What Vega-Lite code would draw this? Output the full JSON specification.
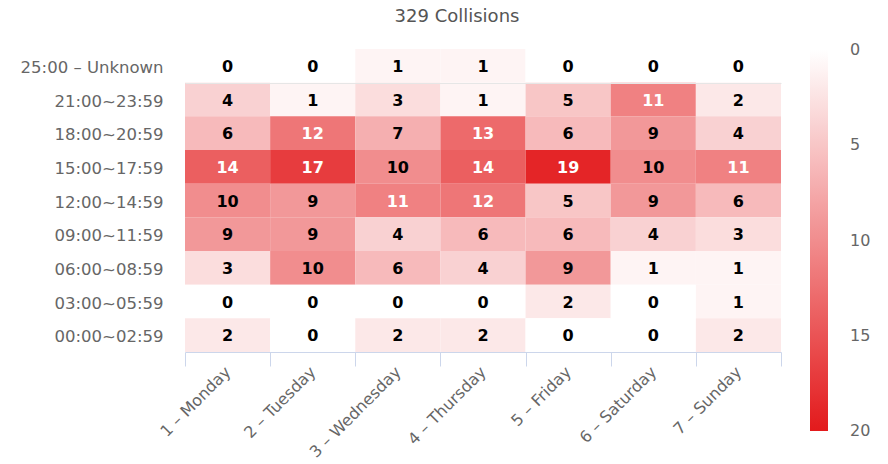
{
  "$schema": "https://vega.github.io/schema/vega-lite/v6.json",
  "width": 596,
  "height": 303,
  "autosize": {"type": "none"},
  "padding": {"left": 185, "top": 49, "right": 107, "bottom": 112},
  "background": "white",
  "title": {
    "text": "329 Collisions",
    "anchor": "middle",
    "frame": "group",
    "dx": -26,
    "offset": 15,
    "font": "DejaVu Sans",
    "fontSize": 18,
    "fontWeight": "normal",
    "color": "#555555"
  },
  "data": {
    "values": [
      {"day": "1 – Monday", "time": "25:00 – Unknown", "n": 0},
      {"day": "2 – Tuesday", "time": "25:00 – Unknown", "n": 0},
      {"day": "3 – Wednesday", "time": "25:00 – Unknown", "n": 1},
      {"day": "4 – Thursday", "time": "25:00 – Unknown", "n": 1},
      {"day": "5 – Friday", "time": "25:00 – Unknown", "n": 0},
      {"day": "6 – Saturday", "time": "25:00 – Unknown", "n": 0},
      {"day": "7 – Sunday", "time": "25:00 – Unknown", "n": 0},
      {"day": "1 – Monday", "time": "21:00~23:59", "n": 4},
      {"day": "2 – Tuesday", "time": "21:00~23:59", "n": 1},
      {"day": "3 – Wednesday", "time": "21:00~23:59", "n": 3},
      {"day": "4 – Thursday", "time": "21:00~23:59", "n": 1},
      {"day": "5 – Friday", "time": "21:00~23:59", "n": 5},
      {"day": "6 – Saturday", "time": "21:00~23:59", "n": 11},
      {"day": "7 – Sunday", "time": "21:00~23:59", "n": 2},
      {"day": "1 – Monday", "time": "18:00~20:59", "n": 6},
      {"day": "2 – Tuesday", "time": "18:00~20:59", "n": 12},
      {"day": "3 – Wednesday", "time": "18:00~20:59", "n": 7},
      {"day": "4 – Thursday", "time": "18:00~20:59", "n": 13},
      {"day": "5 – Friday", "time": "18:00~20:59", "n": 6},
      {"day": "6 – Saturday", "time": "18:00~20:59", "n": 9},
      {"day": "7 – Sunday", "time": "18:00~20:59", "n": 4},
      {"day": "1 – Monday", "time": "15:00~17:59", "n": 14},
      {"day": "2 – Tuesday", "time": "15:00~17:59", "n": 17},
      {"day": "3 – Wednesday", "time": "15:00~17:59", "n": 10},
      {"day": "4 – Thursday", "time": "15:00~17:59", "n": 14},
      {"day": "5 – Friday", "time": "15:00~17:59", "n": 19},
      {"day": "6 – Saturday", "time": "15:00~17:59", "n": 10},
      {"day": "7 – Sunday", "time": "15:00~17:59", "n": 11},
      {"day": "1 – Monday", "time": "12:00~14:59", "n": 10},
      {"day": "2 – Tuesday", "time": "12:00~14:59", "n": 9},
      {"day": "3 – Wednesday", "time": "12:00~14:59", "n": 11},
      {"day": "4 – Thursday", "time": "12:00~14:59", "n": 12},
      {"day": "5 – Friday", "time": "12:00~14:59", "n": 5},
      {"day": "6 – Saturday", "time": "12:00~14:59", "n": 9},
      {"day": "7 – Sunday", "time": "12:00~14:59", "n": 6},
      {"day": "1 – Monday", "time": "09:00~11:59", "n": 9},
      {"day": "2 – Tuesday", "time": "09:00~11:59", "n": 9},
      {"day": "3 – Wednesday", "time": "09:00~11:59", "n": 4},
      {"day": "4 – Thursday", "time": "09:00~11:59", "n": 6},
      {"day": "5 – Friday", "time": "09:00~11:59", "n": 6},
      {"day": "6 – Saturday", "time": "09:00~11:59", "n": 4},
      {"day": "7 – Sunday", "time": "09:00~11:59", "n": 3},
      {"day": "1 – Monday", "time": "06:00~08:59", "n": 3},
      {"day": "2 – Tuesday", "time": "06:00~08:59", "n": 10},
      {"day": "3 – Wednesday", "time": "06:00~08:59", "n": 6},
      {"day": "4 – Thursday", "time": "06:00~08:59", "n": 4},
      {"day": "5 – Friday", "time": "06:00~08:59", "n": 9},
      {"day": "6 – Saturday", "time": "06:00~08:59", "n": 1},
      {"day": "7 – Sunday", "time": "06:00~08:59", "n": 1},
      {"day": "1 – Monday", "time": "03:00~05:59", "n": 0},
      {"day": "2 – Tuesday", "time": "03:00~05:59", "n": 0},
      {"day": "3 – Wednesday", "time": "03:00~05:59", "n": 0},
      {"day": "4 – Thursday", "time": "03:00~05:59", "n": 0},
      {"day": "5 – Friday", "time": "03:00~05:59", "n": 2},
      {"day": "6 – Saturday", "time": "03:00~05:59", "n": 0},
      {"day": "7 – Sunday", "time": "03:00~05:59", "n": 1},
      {"day": "1 – Monday", "time": "00:00~02:59", "n": 2},
      {"day": "2 – Tuesday", "time": "00:00~02:59", "n": 0},
      {"day": "3 – Wednesday", "time": "00:00~02:59", "n": 2},
      {"day": "4 – Thursday", "time": "00:00~02:59", "n": 2},
      {"day": "5 – Friday", "time": "00:00~02:59", "n": 0},
      {"day": "6 – Saturday", "time": "00:00~02:59", "n": 0},
      {"day": "7 – Sunday", "time": "00:00~02:59", "n": 2}
    ]
  },
  "encoding": {
    "x": {
      "field": "day",
      "type": "ordinal",
      "sort": ["1 – Monday", "2 – Tuesday", "3 – Wednesday", "4 – Thursday", "5 – Friday", "6 – Saturday", "7 – Sunday"],
      "scale": {"paddingInner": 0, "paddingOuter": 0},
      "axis": {
        "title": null,
        "grid": false,
        "domainColor": "#ccd6eb",
        "domainWidth": 1,
        "tickColor": "#ccd6eb",
        "tickSize": 14,
        "tickBand": "extent",
        "labelAngle": -45,
        "labelAlign": "right",
        "labelBaseline": "middle",
        "labelPadding": 3,
        "labelFont": "DejaVu Sans",
        "labelFontSize": 16,
        "labelColor": "#666666"
      }
    },
    "y": {
      "field": "time",
      "type": "ordinal",
      "sort": ["25:00 – Unknown", "21:00~23:59", "18:00~20:59", "15:00~17:59", "12:00~14:59", "09:00~11:59", "06:00~08:59", "03:00~05:59", "00:00~02:59"],
      "scale": {"paddingInner": 0, "paddingOuter": 0},
      "axis": {
        "title": null,
        "grid": true,
        "gridColor": {"condition": {"test": "datum.value === '25:00 – Unknown'", "value": "#e6e6e6"}, "value": "transparent"},
        "tickBand": "extent",
        "ticks": false,
        "domain": false,
        "labelPadding": 22,
        "labelOffset": 1.5,
        "labelFont": "DejaVu Sans",
        "labelFontSize": 16.5,
        "labelColor": "#666666"
      }
    }
  },
  "layer": [
    {
      "mark": {"type": "rect"},
      "encoding": {
        "color": {
          "field": "n",
          "type": "quantitative",
          "scale": {"domain": [20, 0], "range": ["#e31a1c", "#ffffff"], "interpolate": "rgb"},
          "legend": {
            "orient": "none",
            "legendX": 625,
            "legendY": 1,
            "direction": "vertical",
            "title": null,
            "gradientLength": 381,
            "gradientThickness": 18,
            "gradientStrokeWidth": 0,
            "values": [0, 5, 10, 15, 20],
            "labelOffset": 22,
            "labelBaseline": "middle",
            "labelFont": "DejaVu Sans",
            "labelFontSize": 16,
            "labelColor": "#666666",
            "encode": {
              "labels": {
                "update": {"baseline": {"value": "middle"}}
              }
            }
          }
        }
      }
    },
    {
      "mark": {"type": "text", "font": "DejaVu Sans", "fontSize": 16, "fontWeight": "bold", "dy": 1},
      "encoding": {
        "text": {"field": "n", "type": "quantitative"},
        "color": {
          "condition": {"test": "datum.n >= 11", "value": "#ffffff"},
          "value": "#000000"
        }
      }
    }
  ],
  "config": {
    "view": {"stroke": null}
  }
}
